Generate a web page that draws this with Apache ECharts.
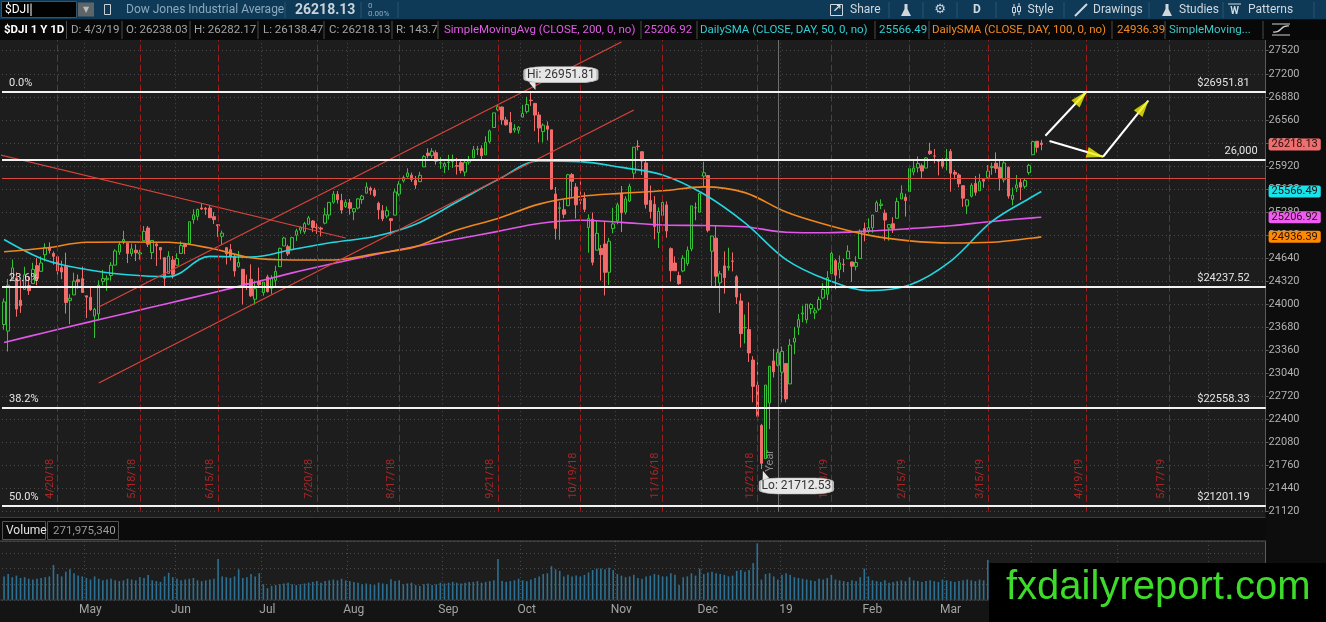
<!DOCTYPE html>
<html>
<head>
<meta charset="utf-8">
<title>$DJI 1 Y 1D</title>
<script src="https://cdn.jsdelivr.net/npm/echarts@6/dist/echarts.min.js"></script>
<style>
html,body{margin:0;padding:0;background:#0d0d0d;overflow:hidden;}
#main{width:1326px;height:622px;}
</style>
</head>
<body>
<div id="main"></div>
<script type="text/javascript">
// market closed days (used to build the trading-day categories)
var holidays = ['2018-05-28','2018-07-04','2018-09-03','2018-11-22','2018-12-05','2018-12-25',
  '2019-01-01','2019-01-21','2019-02-18','2019-04-19','2019-05-27'];
var slotCount = 307; // 253 traded days + empty area on the right
var monthNames = ['19','Feb','Mar','Apr','May','Jun','Jul','Aug','Sep','Oct','Nov','Dec'];

// daily candles [open, close, low, high], 4/3/18 .. 4/3/19
var candles = [
  // Apr
  [23719,24033,23646,24081],[23628,24264,23344,24351],[24347,24505,24347,24622],[24365,23933,23827,24443],
  [24055,23979,23880,24333],[24207,24408,24207,24520],[24259,24189,24130,24375],[24287,24483,24287,24577],
  [24536,24360,24264,24640],[24457,24573,24457,24665],[24688,24787,24596,24847],[24793,24748,24704,24859],
  [24705,24665,24549,24733],[24660,24463,24408,24686],[24508,24448,24348,24607],[24528,24024,23871,24716],
  [24050,24084,23723,24141],[24130,24322,24130,24439],[24341,24311,24217,24413],[24355,24163,24163,24523],
  // May
  [24117,24099,23808,24117],[24097,23925,23907,24240],[23836,23930,23531,23950],[23865,24263,23778,24333],
  [24317,24357,24262,24479],[24341,24361,24186,24404],[24399,24542,24328,24586],[24543,24740,24543,24765],
  [24725,24831,24686,24867],[24874,24899,24834,25020],[24847,24706,24572,24847],[24703,24769,24664,24841],
  [24750,24714,24600,24831],[24697,24715,24619,24757],[24883,25013,24883,25086],[25059,24834,24795,25086],
  [24718,24886,24626,24887],[24837,24811,24532,24848],[24788,24753,24622,24791],[24646,24361,24252,24646],
  [24428,24668,24428,24736],[24614,24416,24356,24670],
  // Jun
  [24542,24635,24542,24709],[24706,24814,24706,24874],[24831,24799,24695,24832],[24843,25146,24843,25146],
  [25174,25241,25119,25318],[25220,25317,25165,25326],[25337,25322,25310,25402],[25333,25320,25240,25350],
  [25336,25201,25198,25376],[25216,25175,25114,25279],[25104,25090,24935,25106],[24944,24987,24827,25023],
  [24786,24700,24552,24786],[24758,24658,24609,24837],[24667,24462,24384,24694],[24525,24581,24508,24740],
  [24485,24252,23997,24485],[24285,24284,24197,24412],[24347,24117,24101,24554],[24070,24216,23997,24329],
  [24315,24271,24238,24509],
  // Jul
  [24161,24307,24119,24308],[24380,24175,24164,24410],[24222,24357,24144,24403],[24332,24456,24253,24535],
  [24522,24776,24522,24786],[24810,24920,24810,24936],[24800,24700,24671,24826],[24758,24925,24758,24937],
  [24960,25019,24880,25049],[25029,25064,24979,25084],[25007,25120,24977,25143],[25111,25199,25099,25227],
  [25156,25065,25001,25169],[25069,25058,24976,25123],[25058,25044,24942,25078],[25126,25242,25110,25341],
  [25239,25415,25176,25415],[25416,25528,25397,25572],[25527,25451,25397,25573],[25440,25307,25257,25534],
  [25356,25415,25338,25455],
  // Aug
  [25410,25333,25244,25462],[25282,25327,25168,25337],[25336,25463,25318,25475],[25453,25502,25395,25519],
  [25542,25629,25542,25692],[25609,25583,25519,25635],[25586,25509,25487,25616],[25403,25313,25178,25424],
  [25298,25187,25154,25377],[25225,25300,25195,25358],[25188,25162,24965,25193],[25237,25559,25237,25606],
  [25530,25669,25500,25711],[25713,25759,25689,25787],[25773,25823,25757,25888],[25792,25733,25700,25828],
  [25720,25656,25603,25781],[25702,25790,25701,25839],[25908,26050,25908,26071],[26099,26064,26027,26167],
  [26063,26125,26032,26167],[26104,25987,25939,26139],[25960,25965,25879,26043],
  // Sep
  [25916,25952,25820,25978],[25968,25975,25862,26075],[25981,25996,25893,26079],[25924,25917,25800,26031],
  [25966,25858,25817,26017],[25834,25971,25777,26003],[25974,25999,25940,26060],[26033,26145,26033,26198],
  [26150,26155,26072,26198],[26161,26062,26015,26206],[26074,26247,26074,26333],[26258,26406,26232,26425],
  [26454,26657,26454,26657],[26700,26743,26680,26769],[26738,26562,26492,26746],[26559,26492,26479,26602],
  [26523,26385,26371,26670],[26418,26440,26383,26500],[26416,26458,26369,26474],
  // Oct
  [26598,26651,26598,26769],[26674,26774,26648,26880],[26833,26828,26753,26951.81],[26789,26627,26404,26789],
  [26627,26447,26246,26672],[26398,26487,26246,26512],[26476,26431,26276,26539],[26422,25599,25589,26422],
  [25531,25053,24900,25628],[25331,25340,24896,25422],[25312,25250,25194,25456],[25368,25798,25368,25810],
  [25800,25707,25491,25822],[25628,25380,25190,25681],[25456,25444,25386,25713],[25471,25318,25279,25554],
  [25063,25191,24715,25248],[25181,24583,24540,25275],[24751,24985,24751,25159],[24773,24689,24329,24823],
  [24837,24443,24122,25150],[24444,24875,24268,24922],[25051,25116,24985,25340],
  // Nov
  [25158,25380,25110,25410],[25542,25271,25003,25641],[25279,25462,25246,25499],[25434,25636,25420,25674],
  [25820,26181,25735,26181],[26194,26191,26136,26278],[26118,25989,25795,26118],[25962,25387,25328,26015],
  [25442,25287,25191,25648],[25388,25081,24902,25501],[24996,25290,24780,25345],[25234,25413,25165,25480],
  [25379,25018,24924,25429],[24772,24466,24318,24790],[24573,24465,24465,24664],[24398,24286,24268,24453],
  [24462,24640,24445,24681],[24565,24749,24533,24802],[24769,25366,24736,25366],[25340,25339,25166,25413],
  [25279,25538,25277,25538],
  // Dec
  [25779,25826,25626,25980],[25788,25027,24999,25788],[24737,24947,24242,24950],[24918,24389,24243,25100],
  [24297,24423,23881,24463],[24532,24370,24149,24733],[24509,24527,24467,24785],[24601,24597,24456,24720],
  [24382,24101,24005,24405],[24046,23592,23399,24150],[23675,23675,23456,23858],[23648,23324,23198,24028],
  [23225,22860,22639,23278],[22877,22445,22397,23196],[22317,21792,21712.53,22339],[21857,22878,21857,22879],
  [22629,23139,22267,23139],[23213,23062,22984,23382],[23154,23327,23138,23381],
  // Jan
  [23058,23346,22638,23413],[23177,22686,22638,23177],[22894,23433,22894,23518],[23474,23531,23306,23687],
  [23681,23787,23574,23865],[23865,23879,23750,23981],[23785,24001,23734,24002],[23939,23996,23863,24014],
  [23880,23910,23793,23953],[23932,24065,23909,24105],[24087,24207,24068,24292],[24139,24370,24058,24460],
  [24424,24706,24424,24777],[24605,24404,24209,24628],[24483,24575,24359,24678],[24555,24553,24446,24632],
  [24632,24737,24632,24817],[24588,24528,24311,24589],[24526,24580,24470,24668],[24634,25014,24634,25040],
  [25051,24999,24875,25134],
  // Feb
  [25025,25064,24984,25193],[25062,25239,24994,25239],[25287,25411,25287,25439],[25371,25390,25320,25457],
  [25265,25169,24884,25314],[25059,25106,24883,25106],[25118,25053,24989,25209],[25194,25425,25194,25480],
  [25462,25543,25462,25652],[25486,25439,25217,25534],[25564,25883,25564,25883],[25836,25891,25790,25988],
  [25894,25954,25830,26053],[25924,25850,25741,25954],[25891,26031,25891,26043],[26127,26091,26074,26242],
  [26058,26057,25956,26156],[25991,25985,25789,26017],[25986,25916,25885,26027],
  // Mar
  [25998,26026,25858,26155],[26122,25819,25563,26155],[25832,25806,25735,25865],[25795,25673,25623,25819],
  [25646,25473,25353,25651],[25365,25450,25252,25458],[25500,25650,25482,25680],[25678,25554,25508,25781],
  [25575,25702,25575,25811],[25731,25709,25617,25749],[25761,25849,25737,25932],[25898,25914,25798,25965],
  [25958,25887,25825,26109],[25900,25746,25580,26010],[25728,25962,25690,25987],[25901,25502,25467,25913],
  [25457,25516,25373,25620],[25612,25657,25557,25794],[25689,25626,25447,25741],[25637,25717,25605,25741],
  [25828,25929,25798,25950],
  // Apr
  [26076,26258,26076,26270],[26264,26179,26106,26264],[26238.03,26218.13,26138.47,26282.17]
];

// daily volume, millions
var volumeM = [
  300,330,290,310,280,290,270,260,270,280,290,300,445,330,300,360,390,340,310,300,
  280,260,300,270,250,260,270,250,240,250,270,260,250,290,280,317,250,240,230,300,345,290,
  270,250,260,270,280,250,240,250,260,270,520,300,290,280,300,390,280,290,330,300,340,
  200,150,180,190,200,210,220,200,190,200,210,220,230,240,220,240,250,260,250,270,250,
  240,230,220,200,210,200,190,220,210,200,265,240,250,200,210,220,190,180,200,210,190,200,220,
  210,220,230,220,210,220,230,230,240,220,230,240,250,520,240,230,240,250,270,
  250,240,260,280,300,330,340,430,390,370,300,320,300,310,300,320,350,380,400,400,390,410,380,
  330,310,290,300,320,280,270,300,310,330,320,300,300,340,320,190,290,300,340,310,400,
  330,350,360,340,330,320,300,310,370,380,360,380,470,720,260,330,340,300,260,
  320,340,320,290,280,270,260,250,240,270,260,280,320,260,250,240,230,250,240,290,400,
  300,250,240,230,250,220,230,240,250,240,290,250,240,230,240,250,240,230,260,
  250,240,230,240,250,260,250,240,260,250,510,280,260,300,290,310,280,270,260,250,260,
  280,260,272
];

// moving averages every 10 sessions
var smaIdx = [0,10,20,30,40,50,60,70,80,90,100,110,120,130,140,150,160,170,180,190,200,210,220,230,240,250,252];
var sma200 = [23470,23608,23745,23880,24015,24150,24292,24436,24566,24688,24802,24906,25012,25122,25167,25137,25100,25093,25077,25000,24992,25015,25050,25090,25150,25200,25207];
var sma50  = [24900,24615,24483,24410,24383,24665,24655,24760,24860,24940,25110,25420,25730,25990,25980,25900,25795,25530,25130,24620,24340,24190,24268,24600,25150,25500,25566];
var sma100 = [24730,24780,24860,24865,24860,24780,24645,24615,24615,24700,24800,25030,25190,25390,25495,25540,25575,25630,25550,25280,25100,24960,24880,24850,24860,24920,24936];

// study / drawing levels
var fibLevels = [26951.81, 24237.52, 22558.33, 21201.19];
var fibNames = ['0.0%', '23.6%', '38.2%', '50.0%'];
var roundLevel = 26000;
var redLevel = 25750;
var markerKeys   = ['4/20/18','5/18/18','6/15/18','7/20/18','8/17/18','9/21/18','10/19/18','11/16/18','12/21/18','1/18/19','2/15/19','3/15/19','4/18/19','5/17/19'];
var markerLabels = ['4/20/18','5/18/18','6/15/18','7/20/18','8/17/18','9/21/18','10/19/18','11/16/18','12/21/18','1/18/19','2/15/19','3/15/19','4/19/19','5/17/19'];
var trendLines = [
  [[-1, 26075], [83.3, 24920]],
  [[22.6, 23961], [150.4, 27641]],
  [[22.6, 22906], [152.8, 26697]]
];
var arrows = [
  [[253, 26340], [262.6, 26951]],
  [[254, 26266], [267.2, 26048]],
  [[267.2, 26048], [277.9, 26826]]
];
var arrowRot = [-42, -106, -38];
var arrowOff = [[-5.4, 5.9], [-7.7, -2.2], [-4.9, 6.3]];
var tagValues = [26218.13, 25566.49, 25206.92, 24936.39];
var tagColors = ['#f26d6d', '#19e3e8', '#ee5cf0', '#ff8a00'];
var hiLo = [['Hi: 26951.81', '10/3/18', 26951.81], ['Lo: 21712.53', '12/24/18', 21712.53]];

// trading day categories
function buildDays(total) {
  var out = [];
  var t = Date.UTC(2018, 3, 3);
  while (out.length < total) {
    var d = new Date(t);
    var wd = d.getUTCDay();
    if (wd > 0 && wd < 6 && holidays.indexOf(d.toISOString().slice(0, 10)) < 0) {
      out.push((d.getUTCMonth() + 1) + '/' + d.getUTCDate() + '/' + (d.getUTCFullYear() % 100));
    }
    t += 86400000;
  }
  return out;
}
var cats = buildDays(slotCount);
function monthOf(c) { return parseInt(c.split('/')[0], 10); }
function isMonthStart(i) { return i > 0 && monthOf(cats[i]) !== monthOf(cats[i - 1]); }

function pairs(idx, vals) { return idx.map(function (x, k) { return [x, vals[k]]; }); }

// ---------- frame, toolbar, legend row, watermark ----------
var g = [];
function rect(x, y, w, h, fill, z, stroke) {
  g.push({type: 'rect', z: z, silent: true, shape: {x: x, y: y, width: w, height: h},
    style: {fill: fill, stroke: stroke || null, lineWidth: 1}});
}
function line(x1, y1, x2, y2, color, z, w) {
  g.push({type: 'line', z: z, silent: true, shape: {x1: x1, y1: y1, x2: x2, y2: y2},
    style: {stroke: color, lineWidth: w || 1}});
}
function txt(x, y, s, color, font, z, align) {
  g.push({type: 'text', z: z, silent: true,
    style: {x: x, y: y, text: s, fill: color, font: font, textAlign: align || 'left', textVerticalAlign: 'middle'}});
}

rect(0, 40, 1265.6, 478, '#1d1d1d', -10);      // price pane
rect(0, 541, 1265.6, 59, '#1d1d1d', -10);      // volume pane
rect(0, 600, 1326, 22, '#141414', -10);        // time axis strip
rect(0, 518, 1265.6, 23, '#0b0b0b', 50);       // volume header
line(0, 517.5, 1265.6, 517.5, '#3c3c3c', 51);
line(0, 541, 1265.6, 541, '#555555', 51);
line(0, 600, 1265.6, 600, '#3c3c3c', 51);
rect(2.5, 521.5, 43, 18, '#0b0b0b', 52, '#555');
txt(6, 531, 'Volume', '#e2e2e2', '12px Roboto', 53);
rect(47.5, 521.5, 71, 18, '#0b0b0b', 52, '#555');
txt(53, 531, '271,975,340', '#9b9b9b', '11.5px Roboto', 53);

// toolbar
rect(0, 0, 1326, 19.5, '#0f3a57', 50);
rect(1.5, 1.5, 75, 16, '#020202', 51, '#33556d');
txt(5, 10, '$DJI', '#ffffff', '12px Roboto', 52);
line(31, 3.5, 31, 16, '#ffffff', 52);
rect(78, 2.5, 16, 14, '#5e6468', 51);
txt(86, 10, '\u25BC', '#b8bcbf', '8px "DejaVu Sans"', 52, 'center');
rect(104.5, 4.5, 6, 10, null, 51, '#c8d0d6');
txt(126, 10, 'Dow Jones Industrial Average', '#8ba9bf', '12px Roboto', 52);
line(285, 2, 285, 18, '#2b5572', 51);
txt(295, 10, '26218.13', '#c9d3da', 'bold 14px Roboto', 52);
line(361, 2, 361, 18, '#2b5572', 51);
txt(368, 5.5, '0', '#8ba9bf', '8px Roboto', 52);
txt(368, 14, '0.00%', '#8ba9bf', '8px Roboto', 52);
line(398, 2, 398, 18, '#2b5572', 51);
rect(830.5, 4.5, 12, 11, null, 52, '#d0d8de');
txt(837, 9, '\u2197', '#d0d8de', 'bold 11px "DejaVu Sans"', 53, 'center');
txt(850, 10, 'Share', '#d0d8de', '12px Roboto', 52);
line(889, 2, 889, 18, '#2b5572', 51);
g.push({type: 'polygon', z: 52, silent: true, shape: {points: [[901, 16], [911, 16], [907.5, 9], [907.5, 4], [904.5, 4], [904.5, 9]]}, style: {fill: '#d0d8de'}});
line(923, 2, 923, 18, '#2b5572', 51);
txt(940, 10, '\u2699', '#d0d8de', '13px "DejaVu Sans"', 52, 'center');
line(957, 2, 957, 18, '#2b5572', 51);
txt(977, 10, 'D', '#d0d8de', 'bold 12px Roboto', 52, 'center');
line(996, 2, 996, 18, '#2b5572', 51);
line(1014, 4, 1014, 16, '#d0d8de', 52); rect(1012.5, 7.5, 3, 5, '#0f3a57', 53, '#d0d8de');
line(1019, 3, 1019, 15, '#d0d8de', 52); rect(1017.5, 6.5, 3, 5, '#0f3a57', 53, '#d0d8de');
txt(1027.5, 10, 'Style', '#d0d8de', '12px Roboto', 52);
line(1064, 2, 1064, 18, '#2b5572', 51);
line(1075, 16, 1087, 4, '#d0d8de', 52, 2);
txt(1093, 10, 'Drawings', '#d0d8de', '12px Roboto', 52);
line(1149, 2, 1149, 18, '#2b5572', 51);
g.push({type: 'polygon', z: 52, silent: true, shape: {points: [[1162, 16], [1172, 16], [1168.5, 9], [1168.5, 4], [1165.5, 4], [1165.5, 9]]}, style: {fill: '#d0d8de'}});
txt(1179, 10, 'Studies', '#d0d8de', '12px Roboto', 52);
line(1223, 2, 1223, 18, '#2b5572', 51);
line(1228, 4, 1241, 4, '#d0d8de', 52);
txt(1234.5, 11, 'W', '#d0d8de', 'bold 10px Roboto', 52, 'center');
txt(1248, 10, 'Patterns', '#d0d8de', '12px Roboto', 52);
line(1314, 2, 1314, 18, '#2b5572', 51);

// legend row of the price pane
rect(0, 19.5, 1326, 20.5, '#080808', 50);
var legendCells = [
  ['$DJI 1 Y 1D', 4, '#ffffff', 'bold 11.5px Roboto'],
  ['D: 4/3/19', 71, '#a4a4a4'], ['O: 26238.03', 126, '#a4a4a4'], ['H: 26282.17', 194, '#a4a4a4'],
  ['L: 26138.47', 263, '#a4a4a4'], ['C: 26218.13', 329, '#a4a4a4'], ['R: 143.7', 396, '#a4a4a4'],
  ['SimpleMovingAvg (CLOSE, 200, 0, no)', 444, '#e05ce6'], ['25206.92', 644, '#e05ce6'],
  ['DailySMA (CLOSE, DAY, 50, 0, no)', 700, '#2fd0d6'], ['25566.49', 879, '#2fd0d6'],
  ['DailySMA (CLOSE, DAY, 100, 0, no)', 932, '#f08a24'], ['24936.39', 1117, '#f08a24'],
  ['SimpleMoving...', 1169, '#3cc8c8']
];
var legendSeps = [66.5, 122, 190, 258, 324, 392, 438, 641, 697, 875, 929, 1112, 1165, 1263];
legendCells.forEach(function (c) { txt(c[1], 30, c[0], c[2], c[3] || '11.5px Roboto', 52); });
legendSeps.forEach(function (x) { line(x, 21, x, 39, '#4a4a4a', 51); });
line(1272, 35, 1290, 35, '#cfcfcf', 52);
line(1272, 24, 1290, 24, '#cfcfcf', 52);
g.push({type: 'bezierCurve', z: 52, silent: true, shape: {x1: 1273, y1: 32, x2: 1289, y2: 26, cpx1: 1283, cpy1: 33, cpx2: 1279, cpy2: 25}, style: {stroke: '#cfcfcf', fill: null, lineWidth: 1.2}});

// site watermark
rect(989, 563, 337, 59, '#000000', 100);
txt(1006, 588, 'fxdailyreport.com', '#3ddb2a', '40px "Liberation Sans", Arial', 101);

// ---------- mark lines ----------
var annotLines = [];
markerKeys.forEach(function (k, i) {
  annotLines.push({xAxis: k, name: markerLabels[i],
    lineStyle: {color: '#9c1b1b', type: [7, 3], width: 1},
    label: {show: true, formatter: '{b}', position: 'insideStartTop', distance: [13, 2], color: '#a92626', fontSize: 11}});
});
annotLines.push({xAxis: '12/31/18', name: 'Year',
  lineStyle: {color: '#6e6e6e', type: 'solid', width: 1},
  label: {show: true, formatter: '{b}', position: 'insideStartTop', distance: [40, 2], color: '#8a8a8a', fontSize: 11}});
annotLines.push({yAxis: redLevel, name: '', lineStyle: {color: '#d9493c', width: 1, type: 'solid'}, label: {show: false}});
fibLevels.forEach(function (v, i) {
  annotLines.push({yAxis: v, name: fibNames[i], lineStyle: {color: '#f2f2f2', width: 2, type: 'solid'},
    label: {show: true, formatter: '{b}', position: 'insideStartTop', distance: [7, 3], color: '#e4e4e4', fontSize: 11}});
  annotLines.push({yAxis: v, name: '$' + v.toFixed(2), lineStyle: {color: '#f2f2f2', width: 2, type: 'solid'},
    label: {show: true, formatter: '{b}', position: 'insideEndTop', distance: [16, 3], color: '#e4e4e4', fontSize: 11}});
});
annotLines.push({yAxis: roundLevel, name: '26,000', lineStyle: {color: '#f2f2f2', width: 2, type: 'solid'},
  label: {show: true, formatter: '{b}', position: 'insideEndTop', distance: [8, 3], color: '#e4e4e4', fontSize: 11}});
tagValues.forEach(function (v, i) {
  annotLines.push({yAxis: v, name: v.toFixed(2), lineStyle: {color: 'rgba(0,0,0,0)', width: 0},
    label: {show: true, formatter: '{b}', position: 'end', distance: 3, backgroundColor: tagColors[i],
      color: '#241010', padding: [1, 3, 0, 3], borderRadius: 2, fontSize: 11}});
});

// ---------- series ----------
var series = [];
series.push({
  name: '$DJI', type: 'candlestick', xAxisIndex: 0, yAxisIndex: 0, data: candles, barWidth: 3, z: 3,
  itemStyle: {color: '#1d1d1d', color0: '#f26b6b', borderColor: '#36c236', borderColor0: '#f26b6b', borderWidth: 1}
});
[[sma200, '#e257ea'], [sma50, '#22d6e0'], [sma100, '#f0861e']].forEach(function (s) {
  series.push({type: 'line', xAxisIndex: 0, yAxisIndex: 0, data: pairs(smaIdx, s[0]), smooth: 0.35,
    showSymbol: false, z: 4, lineStyle: {color: s[1], width: 1.6}});
});
trendLines.forEach(function (t) {
  series.push({type: 'line', xAxisIndex: 0, yAxisIndex: 0, data: t, showSymbol: false, z: 4,
    lineStyle: {color: '#d8453c', width: 1.2}});
});
arrows.forEach(function (a) {
  series.push({type: 'line', xAxisIndex: 0, yAxisIndex: 0, data: a, showSymbol: false, z: 6,
    lineStyle: {color: '#ffffff', width: 2}});
});
series.push({type: 'scatter', xAxisIndex: 0, yAxisIndex: 0, z: 7, symbol: 'triangle', symbolSize: [11, 17],
  itemStyle: {color: '#f4f20c'},
  data: arrows.map(function (a, k) { return {value: a[1], symbolRotate: arrowRot[k], symbolOffset: arrowOff[k]}; })});
series.push({type: 'line', xAxisIndex: 0, yAxisIndex: 0, data: [], clip: false, silent: true, z: 5,
  markLine: {z: 5, symbol: ['none', 'none'], silent: true, data: annotLines}});
// Hi / Lo callouts, kept above the date markers
series.push({type: 'scatter', xAxisIndex: 0, yAxisIndex: 0, data: [], silent: true, z: 9,
  markPoint: {
    z: 20, silent: true,
    data: [
      {coord: [hiLo[0][1], hiLo[0][2]], symbol: 'triangle', symbolSize: [7, 9], symbolRotate: 200, symbolOffset: [3, -6],
        itemStyle: {color: '#e7e7e7'}, label: {show: false}},
      {coord: [hiLo[1][1], hiLo[1][2]], symbol: 'triangle', symbolSize: [7, 9], symbolRotate: 20, symbolOffset: [3, 6],
        itemStyle: {color: '#e7e7e7'}, label: {show: false}},
      {name: hiLo[0][0], coord: [hiLo[0][1], hiLo[0][2]], symbol: 'roundRect', symbolSize: [73, 16], symbolOffset: [30, -17],
        itemStyle: {color: '#e7e7e7', borderColor: '#b9b9b9', borderWidth: 1},
        label: {show: true, formatter: '{b}', color: '#333333', fontSize: 12}},
      {name: hiLo[1][0], coord: [hiLo[1][1], hiLo[1][2]], symbol: 'roundRect', symbolSize: [73, 16], symbolOffset: [35, 17],
        itemStyle: {color: '#e7e7e7', borderColor: '#b9b9b9', borderWidth: 1},
        label: {show: true, formatter: '{b}', color: '#333333', fontSize: 12}}
    ]
  }
});
series.push({name: 'Volume', type: 'bar', xAxisIndex: 1, yAxisIndex: 1, data: volumeM, barWidth: 1.6,
  itemStyle: {color: '#2c7193'}});

var dotted = {color: '#4a4a4a', type: [1, 3], width: 1};
var option = {
  backgroundColor: '#0d0d0d',
  animation: false,
  textStyle: {fontFamily: 'Roboto'},
  graphic: g,
  grid: [
    {left: 2, width: 1263.6, top: 39.2, height: 472.5},
    {left: 2, width: 1263.6, top: 541, height: 59}
  ],
  xAxis: [
    {type: 'category', gridIndex: 0, data: cats, boundaryGap: true,
      axisLine: {show: false}, axisTick: {show: false}, axisLabel: {show: false},
      splitLine: {show: true, interval: isMonthStart, lineStyle: dotted}},
    {type: 'category', gridIndex: 1, data: cats, boundaryGap: true,
      axisLine: {show: false}, axisTick: {show: false},
      axisLabel: {show: true, interval: isMonthStart, color: '#a3a3a3', fontSize: 12, margin: 4, padding: [0, 0, 0, 8],
        formatter: function (v) { return monthNames[monthOf(v) - 1]; }},
      splitLine: {show: true, interval: isMonthStart, lineStyle: dotted}}
  ],
  yAxis: [
    {type: 'value', gridIndex: 0, position: 'right', min: 21120, max: 27680, interval: 320,
      axisLine: {show: true, lineStyle: {color: '#5a5a5a'}},
      axisTick: {show: true, length: 3, lineStyle: {color: '#5a5a5a'}},
      axisLabel: {color: '#b2b2b2', fontSize: 11, margin: 3, showMaxLabel: false,
        formatter: function (v) { return String(v); }},
      splitLine: {show: true, lineStyle: dotted}},
    {type: 'value', gridIndex: 1, position: 'right', min: 0, max: 750, interval: 200,
      axisLine: {show: true, lineStyle: {color: '#5a5a5a'}}, axisTick: {show: false},
      axisLabel: {show: false}, splitLine: {show: true, lineStyle: dotted}}
  ],
  series: series
};

var myChart = echarts.init(document.getElementById('main'));
myChart.setOption(option);
</script>
</body>
</html>
